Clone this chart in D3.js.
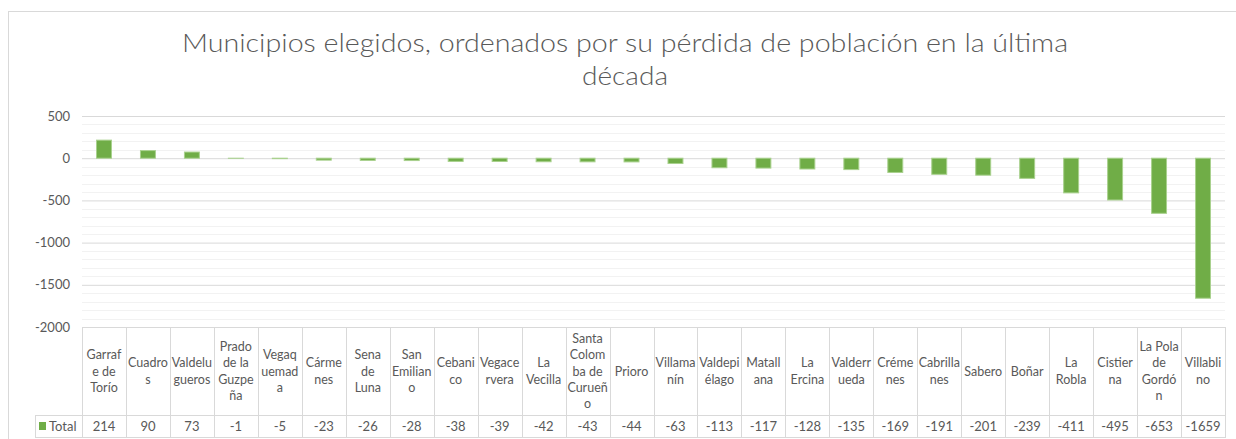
<!DOCTYPE html>
<html>
<head>
  <meta charset="utf-8">
  <title>Municipios elegidos</title>
  <script src="https://d3js.org/d3.v7.min.js"></script>
  <style>
    body { margin: 0; background: #fff; }
    text { font-family: Lato, "Liberation Sans", sans-serif; fill: #595959; }
  </style>
</head>
<body>
  <div id="chart"></div>
  <script>
    // Data
    const municipios = ["Garrafe de Torío", "Cuadros", "Valdelugueros", "Prado de la Guzpeña", "Vegaquemada",
      "Cármenes", "Sena de Luna", "San Emiliano", "Cebanico", "Vegacervera", "La Vecilla",
      "Santa Colomba de Curueño", "Prioro", "Villamanín", "Valdepiélago", "Matallana", "La Ercina",
      "Valderrueda", "Crémenes", "Cabrillanes", "Sabero", "Boñar", "La Robla", "Cistierna",
      "La Pola de Gordón", "Villablino"];
    // wrapped as in the table header
    const headerLines = [["Garraf", "e de", "Torío"], ["Cuadro", "s"], ["Valdelu", "gueros"], ["Prado", "de la", "Guzpe", "ña"],
      ["Vegaq", "uemad", "a"], ["Cárme", "nes"], ["Sena", "de", "Luna"], ["San", "Emilian", "o"], ["Cebani", "co"],
      ["Vegace", "rvera"], ["La", "Vecilla"], ["Santa", "Colom", "ba de", "Curueñ", "o"], ["Prioro"], ["Villama", "nín"],
      ["Valdepi", "élago"], ["Matall", "ana"], ["La", "Ercina"], ["Valderr", "ueda"], ["Créme", "nes"], ["Cabrilla", "nes"],
      ["Sabero"], ["Boñar"], ["La", "Robla"], ["Cistier", "na"], ["La Pola", "de", "Gordó", "n"], ["Villabli", "no"]];
    const total = [214, 90, 73, -1, -5, -23, -26, -28, -38, -39, -42, -43, -44, -63, -113, -117, -128,
      -135, -169, -191, -201, -239, -411, -495, -653, -1659];
    const yTicks = [500, 0, -500, -1000, -1500, -2000];
    const seriesName = "Total";

    const width = 1236, height = 439;
    const plotLeft = 82, plotRight = 1225, plotTop = 116, plotBottom = 327;
    const headerBottom = 415, tableBottom = 437, legendLeft = 35;

    const svg = d3.select("#chart").append("svg")
      .attr("width", width)
      .attr("height", height);

    // chart border
    svg.append("rect")
      .attr("x", 8.5).attr("y", 11.5)
      .attr("width", width).attr("height", height)
      .attr("fill", "none").attr("stroke", "#d9d9d9");

    // title
    const title = svg.append("g");
    title.append("text")
      .attr("x", 625).attr("y", 52)
      .attr("text-anchor", "middle")
      .attr("font-size", 25).attr("font-weight", 300)
      .attr("textLength", 886).attr("lengthAdjust", "spacingAndGlyphs")
      .text("Municipios elegidos, ordenados por su pérdida de población en la última");
    title.append("text")
      .attr("x", 625).attr("y", 85)
      .attr("text-anchor", "middle")
      .attr("font-size", 25).attr("font-weight", 300)
      .attr("textLength", 86).attr("lengthAdjust", "spacingAndGlyphs")
      .text("década");

    const x = d3.scaleBand()
      .domain(municipios)
      .range([plotLeft, plotRight])
      .paddingInner(0.66).paddingOuter(0.33);
    const xCol = d3.scaleBand().domain(municipios).range([plotLeft, plotRight]);

    const y = d3.scaleLinear()
      .domain([-2000, 500])
      .range([plotBottom, plotTop]);

    // minor gridlines
    svg.append("g").selectAll("line")
      .data(d3.range(-1900, 500, 100).filter(v => v % 500 !== 0))
      .join("line")
      .attr("x1", plotLeft).attr("x2", plotRight)
      .attr("y1", d => Math.round(y(d)) + 0.5).attr("y2", d => Math.round(y(d)) + 0.5)
      .attr("stroke", "#f2f2f2");

    // major gridlines + labels
    const yAxis = svg.append("g")
      .attr("transform", `translate(${plotLeft},0)`)
      .call(d3.axisLeft(y).tickValues(yTicks).tickFormat(d => String(d))
        .tickSize(-(plotRight - plotLeft)).tickPadding(12));
    yAxis.select(".domain").remove();
    yAxis.selectAll(".tick line").attr("stroke", "#d9d9d9");
    yAxis.selectAll(".tick text")
      .attr("font-size", 13).attr("fill", "#595959")
      .style("font-family", "Lato, 'Liberation Sans', sans-serif");

    // bars
    svg.append("g").selectAll("rect")
      .data(total)
      .join("rect")
      .attr("x", (d, i) => x(municipios[i]))
      .attr("y", d => y(Math.max(0, d)))
      .attr("width", x.bandwidth())
      .attr("height", d => Math.abs(y(d) - y(0)))
      .attr("fill", "#70ad47")
      .attr("stroke", "#a9d18e")
      .attr("stroke-width", 1);

    // data table
    const table = svg.append("g");
    const grid = "#d9d9d9";
    // vertical lines
    table.selectAll("line.v")
      .data(municipios.concat(["end"]))
      .join("line")
      .attr("class", "v")
      .attr("x1", (d, i) => Math.round(plotLeft + i * xCol.bandwidth()) + 0.5)
      .attr("x2", (d, i) => Math.round(plotLeft + i * xCol.bandwidth()) + 0.5)
      .attr("y1", plotBottom).attr("y2", tableBottom)
      .attr("stroke", grid);
    table.append("line")
      .attr("x1", legendLeft + 0.5).attr("x2", legendLeft + 0.5)
      .attr("y1", headerBottom).attr("y2", tableBottom)
      .attr("stroke", grid);
    [headerBottom, tableBottom].forEach(yy => {
      table.append("line")
        .attr("x1", legendLeft).attr("x2", plotRight + 1)
        .attr("y1", yy + 0.5).attr("y2", yy + 0.5)
        .attr("stroke", grid);
    });

    // header labels
    const lineH = 16.2;
    const headerMid = (plotBottom + headerBottom) / 2;
    municipios.forEach((m, i) => {
      const lines = headerLines[i];
      const cx = xCol(m) + xCol.bandwidth() / 2;
      const t = table.append("text")
        .attr("text-anchor", "middle")
        .attr("font-size", 12.5);
      lines.forEach((ln, k) => {
        t.append("tspan")
          .attr("x", cx)
          .attr("y", headerMid + (k - (lines.length - 1) / 2) * lineH + 4.5)
          .text(ln);
      });
    });

    // values row
    table.selectAll("text.val")
      .data(total)
      .join("text")
      .attr("class", "val")
      .attr("x", (d, i) => xCol(municipios[i]) + xCol.bandwidth() / 2)
      .attr("y", (headerBottom + tableBottom) / 2 + 5)
      .attr("text-anchor", "middle")
      .attr("font-size", 13)
      .text(d => d);

    // legend key
    table.append("rect")
      .attr("x", 39).attr("y", 422)
      .attr("width", 7).attr("height", 8)
      .attr("fill", "#70ad47");
    table.append("text")
      .attr("x", 49).attr("y", (headerBottom + tableBottom) / 2 + 5)
      .attr("font-size", 13)
      .text(seriesName);
  </script>
</body>
</html>
